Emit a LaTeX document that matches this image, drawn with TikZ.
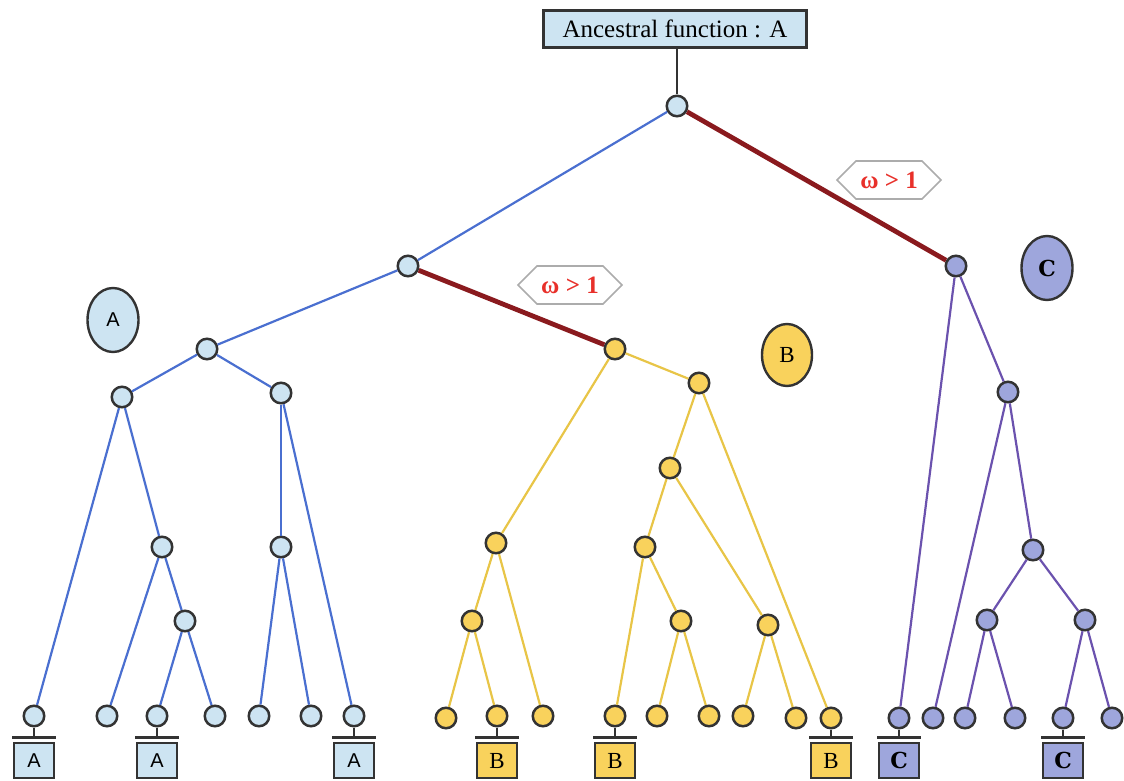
\documentclass[tikz,border=0pt]{standalone}
\usepackage{fontspec}
\setmainfont{Liberation Serif}
\newfontfamily\sansf{Liberation Sans}
\newfontfamily\slabf{DejaVu Serif}
\usetikzlibrary{shapes.geometric,shapes.symbols}
\definecolor{lblue}{HTML}{CDE4F2}
\definecolor{eblue}{HTML}{4A6FD0}
\definecolor{lyel}{HTML}{F9D25C}
\definecolor{eyel}{HTML}{E8C547}
\definecolor{lpur}{HTML}{9EA6DC}
\definecolor{epur}{HTML}{6B52AE}
\definecolor{dred}{HTML}{8A1A1E}
\definecolor{bord}{HTML}{333333}
\definecolor{wred}{HTML}{E8302A}
\begin{document}
\begin{tikzpicture}[x=1pt,y=-1pt,
  nd/.style={circle,draw=bord,line width=2.5pt,minimum size=20.5pt,inner sep=0pt},
  an/.style={nd,fill=lblue}, bn/.style={nd,fill=lyel}, cn/.style={nd,fill=lpur},
  ae/.style={draw=eblue,line width=2.2pt},
  be/.style={draw=eyel,line width=2.2pt},
  ce/.style={draw=epur,line width=2.2pt},
  re/.style={draw=dred,line width=4.8pt},
  stem/.style={draw=bord,line width=2.2pt},
  barn/.style={rectangle,fill=bord,minimum width=44pt,minimum height=3.5pt,inner sep=0pt},
  leafbox/.style={rectangle,draw=bord,line width=2.4pt,minimum width=40pt,minimum height=35pt,inner sep=0pt},
  ell/.style={ellipse,draw=bord,line width=2.4pt,minimum width=51pt,minimum height=64pt,inner sep=0pt},
  omg/.style={signal,signal to=east and west,draw=gray!65,line width=1.6pt,fill=white,text=wred,minimum width=104pt,minimum height=38pt,inner sep=2pt,font=\bfseries\fontsize{25}{28}\selectfont}
]
\useasboundingbox (0,0) rectangle (1124,781);

% top
\node[draw=bord,line width=2.4pt,fill=lblue,minimum width=263pt,minimum height=37pt,inner sep=0pt,font=\fontsize{25}{28}\selectfont] (top) at (675,29) {Ancestral function : A};
\node[an] (r) at (677,106) {};
\draw[stem] (r |- top.south) -- (r);

% level 1
\node[an] (L1) at (408,266) {};
\node[cn] (C1) at (956,266) {};
% A subtree
\node[an] (A0) at (207,349) {};
\node[an] (A1) at (122,397) {};
\node[an] (A2) at (281,393) {};
\node[an] (A3) at (162,547) {};
\node[an] (A4) at (185,621) {};
\node[an] (A5) at (281,547) {};
\node[an] (a1) at (34,716) {};
\node[an] (a2) at (107,716) {};
\node[an] (a3) at (157,716) {};
\node[an] (a4) at (215,716) {};
\node[an] (a5) at (259,716) {};
\node[an] (a6) at (311,716) {};
\node[an] (a7) at (354,716) {};
% B subtree
\node[bn] (B0) at (615,349) {};
\node[bn] (B1) at (496,543) {};
\node[bn] (B2) at (699,383) {};
\node[bn] (B3) at (472,621) {};
\node[bn] (B4) at (670,468) {};
\node[bn] (B5) at (645,547) {};
\node[bn] (B6) at (768,625) {};
\node[bn] (B7) at (681,621) {};
\node[bn] (b1) at (446,718) {};
\node[bn] (b2) at (497,716) {};
\node[bn] (b3) at (543,716) {};
\node[bn] (b4) at (615,716) {};
\node[bn] (b5) at (657,716) {};
\node[bn] (b6) at (709,716) {};
\node[bn] (b7) at (743,716) {};
\node[bn] (b8) at (796,718) {};
\node[bn] (b9) at (831,718) {};
% C subtree
\node[cn] (C2) at (1008,392) {};
\node[cn] (C3) at (1033,550) {};
\node[cn] (C4) at (987,620) {};
\node[cn] (C5) at (1085,620) {};
\node[cn] (c1) at (899,718) {};
\node[cn] (c2) at (933,718) {};
\node[cn] (c3) at (965,718) {};
\node[cn] (c4) at (1015,718) {};
\node[cn] (c5) at (1063,718) {};
\node[cn] (c6) at (1112,718) {};

% edges
\draw[ae] (r) -- (L1);
\draw[re] (r) -- (C1);
\draw[ae] (L1) -- (A0);
\draw[re] (L1) -- (B0);
\foreach \p/\q in {A0/A1,A0/A2,A1/a1,A1/A3,A3/a2,A3/A4,A4/a3,A4/a4,A2/A5,A2/a7,A5/a5,A5/a6}
  \draw[ae] (\p) -- (\q);
\foreach \p/\q in {B0/B1,B0/B2,B1/B3,B1/b3,B3/b1,B3/b2,B2/B4,B2/b9,B4/B5,B4/B6,B5/b4,B5/B7,B7/b5,B7/b6,B6/b7,B6/b8}
  \draw[be] (\p) -- (\q);
\foreach \p/\q in {C1/c1,C1/C2,C2/c2,C2/C3,C3/C4,C3/C5,C4/c3,C4/c4,C5/c5,C5/c6}
  \draw[ce] (\p) -- (\q);

% labels
\node[omg] (w1) at (889,180) {ω > 1};
\node[omg] (w2) at (570,285) {ω > 1};
\node[ell,fill=lblue,font=\sansf\fontsize{20}{22}\selectfont] (eA) at (113,320) {A};
\node[ell,fill=lyel,minimum width=50pt,minimum height=62pt,font=\fontsize{23}{25}\selectfont] (eB) at (787,355) {B};
\node[ell,fill=lpur,font=\slabf\bfseries\fontsize{22}{24}\selectfont] (eC) at (1047,268) {C};

% leaf boxes
\foreach \l/\x/\t/\f/\ff in {a1/34/A/lblue/\sansf\fontsize{20}{22}, a3/157/A/lblue/\sansf\fontsize{20}{22}, a7/354/A/lblue/\sansf\fontsize{20}{22},
   b2/497/B/lyel/\rmfamily\fontsize{23}{25}, b4/615/B/lyel/\rmfamily\fontsize{23}{25}, b9/831/B/lyel/\rmfamily\fontsize{23}{25},
   c1/899/C/lpur/\slabf\bfseries\fontsize{22}{24}, c5/1063/C/lpur/\slabf\bfseries\fontsize{22}{24}}{
  \node[barn] (bar\l) at (\x,737.5) {};
  \draw[stem] (\l) -- (bar\l);
  \node[leafbox,fill=\f,font=\ff\selectfont] (box\l) at (\x,760.5) {\t};
}
\end{tikzpicture}
\end{document}
